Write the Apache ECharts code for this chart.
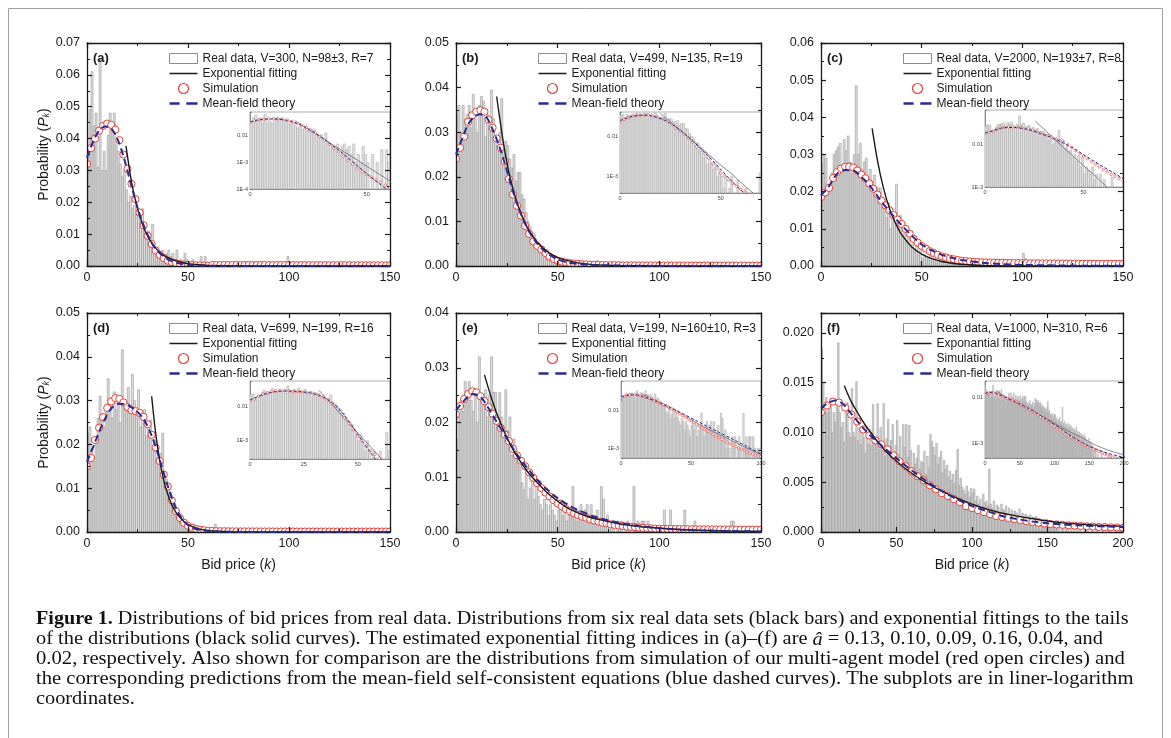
<!DOCTYPE html>
<html>
<head>
<meta charset="utf-8">
<title>Figure 1 - bid price distributions</title>
<script src="https://cdn.jsdelivr.net/npm/echarts/dist/echarts.min.js"></script>
<style>
  html, body { margin: 0; padding: 0; background: #fff; }
  #chart { width: 1171px; height: 738px; }
</style>
</head>
<body>
<div id="chart"></div>
<script>
// ---- values: k = bid price, p = probability ----
const labels = ['(a)', '(b)', '(c)', '(d)', '(e)', '(f)']
const realNames = [
  'Real data, V=300, N=98±3, R=7',
  'Real data, V=499, N=135, R=19',
  'Real data, V=2000, N=193±7, R=8',
  'Real data, V=699, N=199, R=16',
  'Real data, V=199, N=160±10, R=3',
  'Real data, V=1000, N=310, R=6'
]
const expNames = ['Exponential fitting', 'Exponential fitting', 'Exponential fitting',
  'Exponential fitting', 'Exponential fitting', 'Exponantial fitting']

const xMax = [150, 150, 150, 150, 150, 200]
const yMax = [0.07, 0.05, 0.06, 0.05, 0.04, 0.022]
const yStep = [0.01, 0.01, 0.01, 0.01, 0.01, 0.005]
const insetXMax = [60, 70, 70, 65, 100, 200]
const insetXStep = [50, 50, 50, 25, 50, 50]
const insetYMin = [1e-4, 3.8e-4, 1e-3, 2.9e-4, 5.5e-4, 4.9e-4]
const insetYMax = [0.08, 0.041, 0.067, 0.058, 0.058, 0.0233]

// histogram heights for k = 0, 1, 2, ...
const barsA = [
  .034, .049, .061, .044, .048, .031, .065, .030, .036, .030,
  .041, .048, .044, .048, .038, .036, .032, .028, .030, .024,
  .020, .022, .018, .019, .016, .018, .014, .018, .012, .010,
  .011, .008, .013, .006, .005, .004, .003, .005, .002, .004,
  .005, .003, .004, .002, .005, .001, .002, .001, .004, .002,
  .001, 0, .002, 0, .001, 0, .003, 0, .003, .001]
const barsB = [
  .034, .036, .030, .036, .033, .034, .036, .031, .0385, .033,
  .030, .036, .038, .037, .029, .034, .031, .0395, .033, .028,
  .027, .030, .0375, .026, .028, .027, .024, .022, .025, .019,
  .021, .021, .016, .015, .012, .010, .0087, .006, .007, .004,
  .005, .003, .004, .002, .003, .002, .0015, .002, .001, .0015,
  .001, .0005, .001, 0, .0005, .001]
const barsC = [
  .0275, .030, .029, .022, .020, .025, .030, .031, .032, .033,
  .026, .034, .031, .035, .028, .025, .030, .0485, .030, .033,
  .026, .028, .029, .024, .026, .021, .0245, .019, .021, .021,
  .016, .018, .013, .017, .010, .014, .012, .022, .011, .0136,
  .008, .009, .007, .0075, .005, .006, .004, .0055, .003, .0054,
  .002, .003, .0025, .002, .003, .0015, .002, .001, .002, .001,
  .0015, .001, .0005, .001, .0017, .0005, .001, 0, .001, .0005, .001]
const barsD = [
  .0226, .024, .019, .016, .020, .026, .031, .027, .024, .029,
  .035, .030, .026, .032, .028, .030, .025, .0416, .030, .029,
  .033, .028, .036, .030, .027, .0325, .024, .027, .028, .022,
  .024, .0256, .019, .021, .017, .016, .018, .0226, .013, .012,
  .010, .009, .007, .0065, .005, .004, .0035, .003, .002, .0015,
  .001, .0015, .0008, .0005, .001, .0005, 0, .0005, 0, 0,
  .0005, 0, 0, .0018, .0005]
const barsE = [
  .017, .021, .024, .022, .0275, .025, .0275, .024, .022, .026,
  .020, .032, .025, .024, .026, .021, .025, .032, .0255, .0255,
  .020, .0255, .021, .018, .026, .0185, .021, .014, .017, .015,
  .013, .012, .009, .0077, .011, .006, .008, .010, .006, .009,
  .0065, .005, .004, .006, .005, .003, .005, .004, .003, .002,
  .004, .0059, .003, .004, .002, .003, .004, .0083, .003, .002,
  .004, .005, .003, .004, .005, .003, .005, .002, .003, .004,
  .002, .0083, .006, .002, .003, .001, .002, .001, 0, .002,
  .001, .002, 0, .001, .002, .001, 0, .0083, .001, .002,
  .001, .002, .002, 0, .002, .001, 0, .001, 0, .001,
  0, .001, .004, 0, .001, .004, 0, .001, 0, 0,
  .001, 0, .004, 0, 0, .001, 0, .002]
const barsF = [
  .0184, .015, .012, .0135, .012, .0125, .0134, .010, .012, .011,
  .0125, .019, .012, .0105, .011, .009, .0125, .013, .010, .0095,
  .0144, .010, .0095, .0151, .0092, .0105, .0088, .0103, .0095, .0079,
  .0096, .0088, .0103, .0087, .0128, .0095, .0089, .0129, .0083, .0105,
  .0082, .0129, .0076, .0094, .0113, .0079, .0092, .0108, .0071, .0087,
  .0112, .0078, .0096, .0072, .0108, .0085, .0108, .0075, .0107, .0082,
  .0065, .0079, .0068, .0074, .0087, .0063, .0071, .0069, .0081, .0058,
  .0076, .0064, .0098, .0091, .0085, .0077, .0089, .0068, .0075, .0081,
  .0059, .0072, .0063, .0067, .0055, .0061, .0052, .0058, .0049, .0062,
  .0083, .0047, .0054, .0045, .0042, .0038, .0046, .0041, .0035, .0044,
  .0039, .0043, .0031, .0036, .0028, .0033, .0025, .0038, .0029, .0031,
  .0026, .0063, .0028, .0024, .0031, .0022, .0027, .0025, .0019, .0028,
  .0023, .0021, .0026, .0018, .0024, .0017, .0022, .0016, .0021, .0019,
  .0015, .0023, .0014, .0019, .0013, .0018, .0016, .0012, .0017, .0011,
  .0015, .0013, .0016, .001, .0014, .0009, .0012, .0011, .0008, .0013,
  .0009, .0011, .0007, .001, .0006, .0009, .0005, .0008, 0, .0007,
  .0005, 0, .0006, .0004, 0, .0005, 0, .0006, 0, .0004,
  0, .0005, 0, 0, .0004, 0, .0005, 0, 0, .0004,
  0, 0, .0005, 0, 0, 0, .0004, 0, 0, 0,
  .0004, 0, 0, 0, 0, .0004, 0, 0, .0005, 0]
// isolated bars further out: [k, p]
const tailA = [[88, .0005], [99, .003], [122, .0005]]
const tailB = [[58, .0008], [62, .0005], [69, .0012]]
const tailC = [[74, .0008], [82, .001], [86, .001], [90, .0005], [100, .0034], [101, .002], [105, .0008], [110, .0005]]
const tailD = [[66, .0005], [70, .0009]]
const tailE = [[120, .001], [135, .002], [136, .002]]
const tailF = []

// simulation points, every simStep units of k from k = 0
const simStep = [2, 2, 2, 2, 2, 4]
const simA = [
  .032, .037, .040, .0425, .044, .0447, .0443, .0428, .0395, .035,
  .0305, .0258, .021, .0168, .0128, .0095, .0069, .0049, .0035, .0025,
  .0017, .0012, .00085, .0006, .00045, .00035, .00028, .00022, .00018, .00014,
  .00011, .0003, .0003, .0003, .0003, .0003, .0003, .0003, .0003, .0003,
  .0003, .0003, .0003, .0003, .0003, .00028, .00028, .00028, .00028, .00028,
  .00026, .00026, .00026, .00026, .00026, .00025, .00025, .00025, .00025, .00025,
  .00024, .00024, .00024, .00024, .00024, .00023, .00023, .00023, .00023, .00022,
  .00022, .00022, .00021, .00021, .0002, .0002]
const simB = [
  .024, .0265, .029, .0323, .0338, .0346, .0349, .0346, .0328, .031,
  .0286, .0265, .0235, .0195, .016, .0135, .0113, .009, .0072, .0055,
  .0045, .0037, .0029, .0021, .0016, .0012, .001, .0008, .00065, .00055,
  .00047, .0004, .00035, .0003, .00027, .00024, .00022, .0002, .00019, .00018,
  .00017, .00016, .00015, .00015, .00014, .00014, .00013, .00013, .00013, .00012,
  .00012, .00012, .00012, .00011, .00011, .00011, .00011, .00011, .0001, .0001,
  .0001, .0001, .0001, .0001, .0001, .0001, .0001, .0001, .0001, .0001,
  .0001, .0001, .0001, .0001, .0001, .0001]
const simC = [
  .0185, .0198, .021, .0237, .0253, .0262, .0267, .0267, .0265, .0257,
  .0246, .0236, .0222, .0208, .0192, .0176, .0163, .015, .0137, .0125,
  .0113, .010, .0087, .0073, .0063, .0054, .0047, .004, .0035, .003,
  .0026, .0023, .002, .0018, .0016, .0014, .0013, .0012, .0011, .00105,
  .001, .00097, .00094, .00091, .00088, .00086, .00084, .00082, .0008, .00078,
  .00076, .00075, .00074, .00073, .00072, .00071, .0007, .00069, .00068, .00067,
  .00066, .00065, .00064, .00063, .00062, .00061, .0006, .0006, .00059, .00059,
  .00058, .00058, .00057, .00057, .00056, .00056]
const simD = [
  .015, .0169, .021, .0238, .0262, .0283, .0298, .0306, .0304, .0296,
  .0285, .0278, .0276, .0272, .0263, .0246, .0222, .0193, .0162, .0131,
  .0104, .0072, .0048, .0032, .0021, .0014, .001, .0007, .00052, .0004,
  .0003, .00024, .0002, .00018, .00017, .00016, .00015, .00015, .00014, .00014,
  .00013, .00013, .00013, .00012, .00012, .00012, .00012, .00011, .00011, .00011,
  .00011, .00011, .0001, .0001, .0001, .0001, .0001, .0001, .0001, .0001,
  .0001, .0001, .0001, .0001, .0001, .0001, .0001, .0001, .0001, .0001,
  .0001, .0001, .0001, .0001, .0001, .0001]
const simE = [
  .0215, .023, .0243, .0252, .0257, .0255, .0248, .0239, .0228, .0216,
  .0203, .019, .0178, .0166, .0152, .014, .013, .012, .0109, .0099,
  .0089, .008, .0072, .0065, .0058, .0052, .0047, .0042, .0038, .0034,
  .0031, .0028, .0026, .0023, .0021, .0019, .0017, .0016, .0014, .0013,
  .0012, .0011, .001, .00095, .0009, .0008, .00075, .0007, .00066, .00062,
  .0006, .00058, .00057, .00056, .00055, .00054, .00053, .00052, .00051, .0005,
  .00049, .00048, .00048, .00047, .00047, .00046, .00046, .00045, .00045, .00044,
  .00044, .00043, .00043, .00042, .00042, .00042]
const simF = [
  .012, .0127, .0131, .013, .0125, .0118, .0111, .0103, .0097, .0092,
  .0088, .0083, .0077, .0071, .0066, .0061, .0056, .0052, .0047, .0043,
  .0039, .0036, .0033, .003, .0026, .0024, .0022, .002, .0018, .0016,
  .0015, .0014, .0013, .0012, .0011, .001, .00093, .00086, .0008, .00076,
  .00072, .00068, .00064, .0006, .00057, .00054, .00051, .00049, .00047, .00045,
  .00043]

// mean-field theory [k, p]
const mfA = [[0, .034], [3, .039], [6, .0425], [9, .0438], [12, .0432], [15, .040], [18, .0345],
  [21, .0275], [24, .0205], [27, .0145], [30, .0098], [33, .0063], [36, .004], [40, .0021],
  [45, .0009], [50, .00038], [55, .00017], [60, .00008], [80, .00001], [150, .0000001]]
const mfB = [[0, .025], [3, .0285], [6, .0318], [9, .0335], [12, .034], [15, .0333], [18, .0306],
  [21, .0272], [24, .023], [27, .0182], [30, .014], [33, .0105], [36, .0077], [40, .005],
  [45, .0028], [50, .0015], [55, .0008], [60, .00045], [66, .00025], [70, .00018], [90, .00004], [150, .000001]]
const mfC = [[0, .019], [4, .0215], [8, .0248], [12, .0258], [16, .0257], [20, .024], [24, .0218],
  [28, .0188], [32, .016], [36, .0134], [40, .011], [45, .0082], [50, .0058], [55, .0042],
  [60, .003], [65, .0022], [70, .0016], [80, .0009], [90, .0005], [100, .0003], [120, .00012], [150, .00004]]
const mfD = [[0, .016], [4, .0205], [8, .025], [12, .0282], [16, .0293], [20, .029], [24, .0278],
  [28, .0258], [32, .022], [36, .0165], [40, .0105], [44, .0055], [48, .0024], [52, .001],
  [56, .00045], [60, .0002], [65, .00008], [80, .00001], [150, .0000001]]
const mfE = [[0, .0222], [4, .024], [8, .0252], [12, .0247], [16, .0226], [20, .0201], [25, .0171],
  [30, .0142], [35, .0117], [40, .0095], [45, .0077], [50, .0062], [55, .005], [60, .004],
  [70, .0026], [80, .0017], [90, .0011], [100, .0007], [110, .00046], [120, .0003], [135, .00017], [150, .0001]]
const mfF = [[0, .0124], [5, .013], [10, .0132], [15, .0128], [20, .0119], [30, .0101], [40, .0087],
  [50, .0074], [60, .0062], [70, .0051], [80, .0041], [90, .0033], [100, .0026], [110, .0021],
  [120, .0016], [130, .0013], [140, .00105], [150, .00088], [160, .00076], [170, .00067],
  [180, .0006], [190, .00055], [200, .0005]]

// exponential fits to the tails [k, p]
const expA = [[19.3, .0377], [22, .0265], [25, .018], [28, .0122], [31, .0083], [34, .0056], [37, .0038],
  [40, .0026], [45, .0014], [50, .00072], [55, .00038], [60, .0002], [70, .00006], [90, .000004], [150, .000000002]]
const expB = [[20, .038], [23, .0285], [26, .021], [29, .0157], [32, .0117], [35, .0087], [38, .0065],
  [41, .0048], [45, .0032], [50, .0019], [55, .0012], [60, .0007], [65, .00042], [70, .00025],
  [80, .0001], [100, .000014], [150, .0000001]]
const expC = [[25.4, .037], [28, .0285], [31, .021], [34, .0155], [37, .0115], [40, .0085], [45, .0052],
  [50, .0032], [55, .002], [60, .0012], [65, .00075], [70, .00046], [80, .00017], [100, .00002], [150, .0000001]]
const expD = [[32, .031], [34, .0225], [36, .0163], [38, .0118], [40, .0086], [42, .0062], [44, .0045],
  [46, .0033], [48, .0024], [50, .0017], [55, .00077], [60, .00035], [65, .00016], [70, .00007],
  [80, .000014], [150, .0000001]]
const expE = [[14, .0287], [18, .0238], [22, .0198], [26, .0165], [30, .0138], [35, .0111], [40, .009],
  [46, .0068], [54, .0046], [62, .0032], [70, .0023], [80, .0015], [90, .001], [100, .00068],
  [110, .00046], [120, .00031], [135, .00018], [150, .0001]]
const expF = [[15.4, .0147], [20, .0131], [25, .0118], [30, .0106], [40, .0086], [50, .0071], [60, .0059],
  [70, .0049], [80, .0041], [90, .0034], [100, .0028], [110, .0023], [120, .0019], [130, .0016],
  [140, .00135], [150, .0011], [160, .00092], [170, .0008], [180, .0007], [190, .00063], [200, .00057]]

// ---- layout ----
const FONT = 'Liberation Sans, Arial, Helvetica, sans-serif'
const SERIF = 'Liberation Serif, Times New Roman, serif'
const INK = '#1a1a1a'
const RED = '#e2413b'
const NAVY = '#272b92'

const colLeft = [87, 456, 821]
const colWidth = [303, 305, 302]
const rowTop = [43, 313]
const rowHeight = [223, 219]
// inset boxes: left, top, width, height
const insetBox = [[250, 112, 140, 77], [620, 112, 141, 81], [985, 110, 138, 77],
  [250, 381, 140, 78], [621, 381, 140, 77], [985, 381, 139, 77]]

// legend glyphs for the two curves (solid bar, two dashes)
const solidIcon = 'path://M0 0H28V1.5H0Z'
const dashIcon = 'path://M0 0H9V2.2H0Z M15 0H25V2.2H15Z'

const panels = [
  { bars: barsA, tail: tailA, sim: simA, mf: mfA, fit: expA },
  { bars: barsB, tail: tailB, sim: simB, mf: mfB, fit: expB },
  { bars: barsC, tail: tailC, sim: simC, mf: mfC, fit: expC },
  { bars: barsD, tail: tailD, sim: simD, mf: mfD, fit: expD },
  { bars: barsE, tail: tailE, sim: simE, mf: mfE, fit: expE },
  { bars: barsF, tail: tailF, sim: simF, mf: mfF, fit: expF }
]

const onStep = (v, step) => Math.abs(v / step - Math.round(v / step)) < 1e-6

function logLabel(v) {
  const e = Math.log10(v)
  if (Math.abs(e - Math.round(e)) > 1e-6) return ''
  const n = Math.round(e)
  if (n === -2) return '0.01'
  if (n === -1) return '0.1'
  return '1E' + n
}

function barShape(base, fill, stroke) {
  return function (params, api) {
    const k = api.value(0)
    const top = api.coord([k, api.value(1)])
    const bottom = api.coord([k + 1, base])
    return {
      type: 'rect',
      shape: { x: top[0], y: top[1], width: bottom[0] - top[0], height: bottom[1] - top[1] },
      style: { fill: fill, stroke: stroke, lineWidth: 0.5 }
    }
  }
}

function circleShape(r, lw) {
  return function (params, api) {
    const p = api.coord([api.value(0), api.value(1)])
    return {
      type: 'circle',
      shape: { cx: p[0], cy: p[1], r: r },
      style: { fill: '#fff', stroke: RED, lineWidth: lw }
    }
  }
}

const grid = []
const xAxis = []
const yAxis = []
const series = []
const legend = []
const graphic = []

const tick = { inside: true, length: 5, lineStyle: { color: INK, width: 1.2 } }
const minor = { show: true, splitNumber: 2, length: 3, lineStyle: { color: INK, width: 1 } }
const line = { onZero: false, lineStyle: { color: INK, width: 1.3 } }
const tickFont = { fontFamily: FONT, fontSize: 12.5, color: INK }

panels.forEach(function (p, i) {
  const col = i % 3
  const row = Math.floor(i / 3)
  const [il, it, iw, ih] = insetBox[i]
  const ax = 3 * i

  grid.push({ left: colLeft[col], top: rowTop[row], width: colWidth[col], height: rowHeight[row], show: false })
  grid.push({ left: il, top: it, width: iw, height: ih, show: true, backgroundColor: '#fff',
    borderColor: '#9a9a9a', borderWidth: 0.8 })

  // main x axes (bottom with labels, top mirror)
  const xBase = { type: 'value', min: 0, max: xMax[i], interval: 50, gridIndex: 2 * i, z: 3,
    axisLine: line, axisTick: tick, minorTick: minor, splitLine: { show: false } }
  xAxis.push(Object.assign({}, xBase, {
    position: 'bottom',
    axisLabel: Object.assign({ margin: 5, formatter: v => onStep(v, 50) ? String(v) : '' }, tickFont),
    name: row === 1 ? 'Bid price ({i|k})' : '',
    nameLocation: 'middle', nameGap: 26,
    nameTextStyle: { fontFamily: FONT, fontSize: 14, color: INK,
      rich: { i: { fontFamily: FONT, fontSize: 14, fontStyle: 'italic', color: INK } } }
  }))
  xAxis.push(Object.assign({}, xBase, { position: 'top', axisLabel: { show: false } }))
  // inset x axis
  xAxis.push({ type: 'value', min: 0, max: insetXMax[i], interval: insetXStep[i], gridIndex: 2 * i + 1,
    axisLine: { onZero: false, lineStyle: { color: '#777', width: 0.8 } },
    axisTick: { inside: true, length: 2, lineStyle: { color: '#666', width: 0.6 } },
    splitLine: { show: false },
    axisLabel: { margin: 2, fontFamily: FONT, fontSize: 5.5, color: '#444',
      formatter: v => onStep(v, insetXStep[i]) ? String(v) : '' } })

  const step = yStep[i]
  const yBase = { type: 'value', min: 0, max: yMax[i], interval: step, gridIndex: 2 * i, z: 3,
    axisLine: line, axisTick: tick, minorTick: minor, splitLine: { show: false } }
  yAxis.push(Object.assign({}, yBase, {
    position: 'left',
    axisLabel: Object.assign({ margin: 7,
      formatter: v => onStep(v, step) ? v.toFixed(step < 0.01 ? 3 : 2) : '' }, tickFont),
    name: col === 0 ? 'Probability ({i|P}{s|k})' : '',
    nameLocation: 'middle', nameGap: 36, nameRotate: 90,
    nameTextStyle: { fontFamily: FONT, fontSize: 14, color: INK,
      rich: {
        i: { fontFamily: FONT, fontSize: 14, fontStyle: 'italic', color: INK },
        s: { fontFamily: FONT, fontSize: 9, fontStyle: 'italic', color: INK, verticalAlign: 'bottom' }
      } }
  }))
  yAxis.push(Object.assign({}, yBase, { position: 'right', axisLabel: { show: false } }))
  yAxis.push({ type: 'log', logBase: 10, min: insetYMin[i], max: insetYMax[i], gridIndex: 2 * i + 1,
    axisLine: { onZero: false, lineStyle: { color: '#777', width: 0.8 } },
    axisTick: { inside: true, length: 2, lineStyle: { color: '#666', width: 0.6 } },
    splitLine: { show: false },
    axisLabel: { margin: 2, fontFamily: FONT, fontSize: 5.5, color: '#444', formatter: logLabel } })

  const barData = p.bars.map((v, k) => [k, v]).concat(p.tail).filter(d => d[1] > 0)
  const simData = p.sim.map((v, j) => [j * simStep[i], v])

  // main plot
  series.push({ type: 'custom', name: realNames[i], xAxisIndex: ax, yAxisIndex: ax, clip: true, z: 1,
    silent: true, itemStyle: { color: '#dadada' }, data: barData, encode: { x: 0, y: 1 },
    renderItem: barShape(0, '#dcdcdc', '#8c8c8c') })
  series.push({ type: 'custom', name: 'Simulation', xAxisIndex: ax, yAxisIndex: ax, clip: true, z: 3,
    silent: true, itemStyle: { color: RED }, data: simData, encode: { x: 0, y: 1 },
    renderItem: circleShape(3.6, 1) })
  series.push({ type: 'line', name: expNames[i], xAxisIndex: ax, yAxisIndex: ax, z: 4, silent: true,
    symbol: 'none', smooth: 0.25, data: p.fit,
    itemStyle: { color: INK }, lineStyle: { color: INK, width: 1.4 } })
  series.push({ type: 'line', name: 'Mean-field theory', xAxisIndex: ax, yAxisIndex: ax, z: 5, silent: true,
    symbol: 'none', smooth: 0.3, data: p.mf,
    itemStyle: { color: NAVY }, lineStyle: { color: NAVY, width: 2, type: [7, 4] } })

  // inset, log scale
  const lo = insetYMin[i]
  series.push({ type: 'custom', name: 'inset bars ' + i, xAxisIndex: ax + 2, yAxisIndex: ax + 2, clip: true,
    z: 2, silent: true, data: barData.filter(d => d[1] > lo && d[0] < insetXMax[i]), encode: { x: 0, y: 1 },
    renderItem: barShape(lo, '#e4e4e4', '#a3a3a3') })
  series.push({ type: 'line', name: 'inset fit ' + i, xAxisIndex: ax + 2, yAxisIndex: ax + 2, z: 3, silent: true,
    symbol: 'none', smooth: 0.25, data: p.fit, lineStyle: { color: '#666', width: 0.8 } })
  series.push({ type: 'custom', name: 'inset sim ' + i, xAxisIndex: ax + 2, yAxisIndex: ax + 2, clip: true,
    z: 4, silent: true, data: simData, encode: { x: 0, y: 1 }, renderItem: circleShape(1.3, 0.6) })
  series.push({ type: 'line', name: 'inset mf ' + i, xAxisIndex: ax + 2, yAxisIndex: ax + 2, z: 5, silent: true,
    symbol: 'none', smooth: 0.3, data: p.mf, lineStyle: { color: NAVY, width: 1, type: [3, 2] } })

  legend.push({
    orient: 'vertical', align: 'left', left: colLeft[col] + 82, top: rowTop[row] + 9,
    padding: 0, itemGap: 2, itemWidth: 28, itemHeight: 10, selectedMode: false,
    textStyle: { fontFamily: FONT, fontSize: 12, color: INK, lineHeight: 13 },
    data: [
      { name: realNames[i], icon: 'rect', itemStyle: { color: '#fff', borderColor: '#8a8a8a', borderWidth: 1 } },
      { name: expNames[i], icon: solidIcon, itemStyle: { color: INK, borderWidth: 0 } },
      { name: 'Simulation', icon: 'circle', itemStyle: { color: '#fff', borderColor: RED, borderWidth: 1.2 } },
      { name: 'Mean-field theory', icon: dashIcon, itemStyle: { color: NAVY, borderWidth: 0 } }
    ]
  })

  graphic.push({ type: 'text', x: colLeft[col] + 6, y: rowTop[row] + 8.5, z: 10, silent: true,
    style: { text: labels[i], font: 'bold 13px ' + FONT, fill: INK } })
})

// outer frame and caption
graphic.push({ type: 'rect', silent: true, z: -10,
  shape: { x: 8.5, y: 8.5, width: 1154, height: 800 },
  style: { fill: 'none', stroke: '#a0a0a0', lineWidth: 1 } })

const captionLines = [
  '{b|Figure 1.} Distributions of bid prices from real data. Distributions from six real data sets (black bars) and exponential fittings to the tails',
  'of the distributions (black solid curves). The estimated exponential fitting indices in (a)–(f) are {i|â} = 0.13, 0.10, 0.09, 0.16, 0.04, and',
  '0.02, respectively. Also shown for comparison are the distributions from simulation of our multi-agent model (red open circles) and',
  'the corresponding predictions from the mean-field self-consistent equations (blue dashed curves). The subplots are in liner-logarithm',
  'coordinates.'
]
// horizontal stretch per line so the justified lines reach the right margin
const captionStretch = [1.060, 1.072, 1.088, 1.086, 1.07]
captionLines.forEach(function (t, j) {
  graphic.push({ type: 'text', x: 36, y: 610 + 20 * j, scaleX: captionStretch[j], silent: true,
    style: { text: t, font: '19px ' + SERIF, fill: '#111',
      rich: {
        b: { fontFamily: SERIF, fontSize: 19, fontWeight: 'bold', fill: '#111' },
        i: { fontFamily: SERIF, fontSize: 19, fontStyle: 'italic', fill: '#111' }
      } } })
})

const chart = echarts.init(document.getElementById('chart'), null, { renderer: 'canvas' })
chart.setOption({
  animation: false,
  backgroundColor: '#fff',
  grid: grid,
  xAxis: xAxis,
  yAxis: yAxis,
  legend: legend,
  series: series,
  graphic: graphic
})
</script>
</body>
</html>
